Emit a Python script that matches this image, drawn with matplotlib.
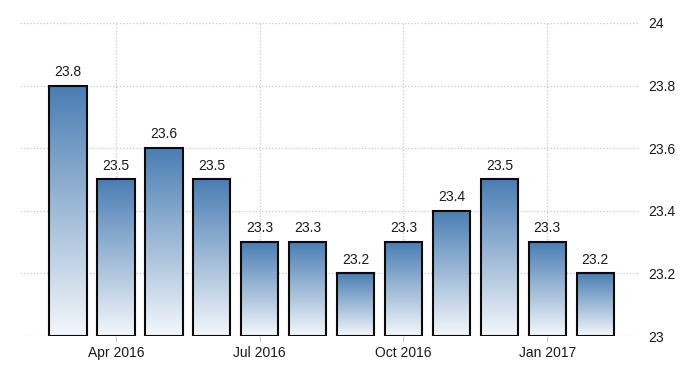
import numpy as np
import matplotlib
matplotlib.use('Agg')
import matplotlib.pyplot as plt
from matplotlib.colors import LinearSegmentedColormap

months = ['Mar 2016', 'Apr 2016', 'May 2016', 'Jun 2016', 'Jul 2016', 'Aug 2016',
          'Sep 2016', 'Oct 2016', 'Nov 2016', 'Dec 2016', 'Jan 2017', 'Feb 2017']
values = [23.8, 23.5, 23.6, 23.5, 23.3, 23.3, 23.2, 23.3, 23.4, 23.5, 23.3, 23.2]
tick_idx = [1, 4, 7, 10]
yticks = [23, 23.2, 23.4, 23.6, 23.8, 24]
ytick_labels = ['23', '23.2', '23.4', '23.6', '23.8', '24']

plt.rcParams['font.family'] = ['Liberation Sans Narrow', 'Liberation Sans', 'DejaVu Sans']

fig = plt.figure(figsize=(7, 3.75), dpi=100)
ax = fig.add_axes([0.0286, 0.104, 0.8854, 0.8347])

cmap = LinearSegmentedColormap.from_list('bar', ['#f4f7fb', '#4a7db3'])
grad = np.linspace(0, 1, 256).reshape(-1, 1)
width = 0.78
base = 23

x = np.arange(len(values))
for xi, v in zip(x, values):
    ax.imshow(grad, extent=[xi - width / 2, xi + width / 2, base, v], origin='lower',
              cmap=cmap, aspect='auto', zorder=2)
    ax.bar(xi, v - base, bottom=base, width=width, facecolor='none',
           edgecolor='#0a0a0a', linewidth=1.5, zorder=3)
    ax.text(xi, v + 0.022, f'{v:.1f}', ha='center', va='bottom', fontsize=10, color='#1a1a1a')

ax.set_xlim(-1.0, 11.93)
ax.set_ylim(23, 24)
ax.set_xticks(tick_idx)
ax.set_xticklabels([months[i] for i in tick_idx], fontsize=10, color='#1a1a1a')
ax.set_yticks(yticks)
ax.set_yticklabels(ytick_labels, fontsize=10, color='#1a1a1a')
ax.yaxis.tick_right()
ax.tick_params(axis='y', length=0, pad=6)
ax.tick_params(axis='x', length=4, color='#cccccc', pad=3)

ax.grid(True, linestyle=':', color='#c8c8c8', linewidth=0.9, zorder=0)
ax.set_axisbelow(True)
for s in ax.spines.values():
    s.set_visible(False)

plt.savefig('out.png', dpi=100)
